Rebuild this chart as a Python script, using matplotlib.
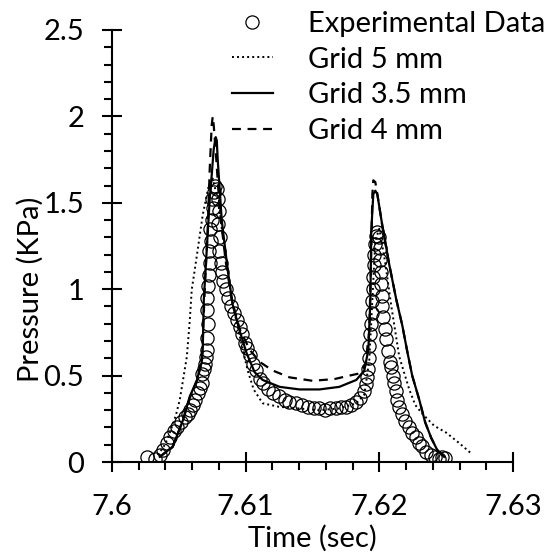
import matplotlib
matplotlib.use("Agg")
import matplotlib.pyplot as plt
from matplotlib.ticker import MultipleLocator

plt.rcParams['font.family'] = ['Lato', 'DejaVu Sans']

# datos experimentales (tiempo en s, presion en KPa)
exp_t = [7.60261, 7.60321, 7.60358, 7.60381, 7.60410, 7.60433, 7.60463, 7.60485,
         7.60515, 7.60545, 7.60567, 7.60582, 7.60604, 7.60619, 7.60642, 7.60657,
         7.60672, 7.60672, 7.60687, 7.60694, 7.60701, 7.60709, 7.60709, 7.60716,
         7.60709, 7.60709, 7.60716, 7.60724, 7.60731, 7.60724, 7.60739, 7.60731,
         7.60746, 7.60754, 7.60746, 7.60761, 7.60769, 7.60784, 7.60791, 7.60799,
         7.60791, 7.60806, 7.60799, 7.60813, 7.60821, 7.60828, 7.60851, 7.60866,
         7.60888, 7.60910, 7.60933, 7.60955, 7.60970, 7.60993, 7.61007, 7.61030,
         7.61052, 7.61075, 7.61104, 7.61127, 7.61164, 7.61201, 7.61246, 7.61291,
         7.61328, 7.61373, 7.61425, 7.61470, 7.61515, 7.61552, 7.61597, 7.61634,
         7.61679, 7.61716, 7.61754, 7.61791, 7.61828, 7.61858, 7.61888, 7.61903,
         7.61910, 7.61918, 7.61925, 7.61925, 7.61933, 7.61940, 7.61948, 7.61948,
         7.61955, 7.61955, 7.61963, 7.61963, 7.61970, 7.61978, 7.61985, 7.62000,
         7.62007, 7.62007, 7.62015, 7.62015, 7.62022, 7.62022, 7.62030, 7.62045,
         7.62052, 7.62067, 7.62082, 7.62090, 7.62104, 7.62112, 7.62127, 7.62134,
         7.62149, 7.62172, 7.62194, 7.62224, 7.62246, 7.62276, 7.62299, 7.62321,
         7.62351, 7.62388, 7.62418, 7.62448, 7.62470, 7.62493]
exp_p = [0.03, 0.02, 0.04, 0.07, 0.11, 0.145, 0.18, 0.20,
         0.23, 0.26, 0.28, 0.30, 0.33, 0.36, 0.40, 0.43,
         0.46, 0.51, 0.54, 0.57, 0.61, 0.65, 0.72, 0.80,
         0.88, 0.95, 1.02, 1.08, 1.15, 1.22, 1.28, 1.35,
         1.40, 1.47, 1.52, 1.56, 1.60, 1.58, 1.52, 1.45,
         1.38, 1.30, 1.22, 1.15, 1.10, 1.05, 1.00, 0.95,
         0.90, 0.86, 0.82, 0.78, 0.74, 0.69, 0.66, 0.62,
         0.57, 0.53, 0.48, 0.46, 0.42, 0.40, 0.38, 0.36,
         0.35, 0.34, 0.33, 0.32, 0.31, 0.31, 0.30, 0.31,
         0.31, 0.32, 0.32, 0.33, 0.35, 0.37, 0.41, 0.45,
         0.49, 0.54, 0.60, 0.67, 0.74, 0.80, 0.86, 0.93,
         1.00, 1.07, 1.14, 1.20, 1.26, 1.31, 1.33, 1.30,
         1.24, 1.17, 1.10, 1.03, 0.96, 0.90, 0.84, 0.77,
         0.71, 0.64, 0.58, 0.55, 0.50, 0.46, 0.41, 0.36,
         0.32, 0.28, 0.24, 0.20, 0.17, 0.145, 0.11, 0.09,
         0.06, 0.04, 0.03, 0.02, 0.03, 0.025]

# malla 5 mm
g5_t = [7.60343, 7.60396, 7.60433, 7.60478, 7.60507, 7.60537, 7.60560, 7.60582,
        7.60597, 7.60619, 7.60634, 7.60679, 7.60724, 7.60754, 7.60791, 7.60843,
        7.60896, 7.60955, 7.61015, 7.61060, 7.61127, 7.61246, 7.61400, 7.61550,
        7.61700, 7.61828, 7.61888, 7.61925, 7.61948, 7.61970, 7.62000, 7.62045,
        7.62090, 7.62149, 7.62224, 7.62269, 7.62321, 7.62410, 7.62500, 7.62597,
        7.62687]
g5_p = [0.04, 0.10, 0.17, 0.27, 0.36, 0.50, 0.61, 0.82,
        1.00, 1.11, 1.19, 1.43, 1.60, 1.64, 1.52, 1.23,
        0.94, 0.73, 0.53, 0.42, 0.34, 0.32, 0.31, 0.30,
        0.31, 0.34, 0.39, 0.59, 0.94, 1.28, 1.35, 1.15,
        0.90, 0.61, 0.42, 0.33, 0.28, 0.21, 0.17, 0.11,
        0.05]

# malla 3.5 mm
g35_t = [7.60358, 7.60455, 7.60530, 7.60582, 7.60634, 7.60672, 7.60679, 7.60687,
         7.60709, 7.60731, 7.60746, 7.60761, 7.60776, 7.60784, 7.60791, 7.60821,
         7.60866, 7.60903, 7.60955, 7.61007, 7.61067, 7.61127, 7.61254, 7.61403,
         7.61552, 7.61701, 7.61828, 7.61888, 7.61918, 7.61933, 7.61940, 7.61955,
         7.61970, 7.61985, 7.62022, 7.62075, 7.62127, 7.62172, 7.62209, 7.62246,
         7.62299, 7.62343, 7.62388, 7.62433, 7.62485]
g35_p = [0.03, 0.09, 0.24, 0.38, 0.47, 0.58, 0.65, 0.94,
         1.23, 1.52, 1.66, 1.81, 1.88, 1.86, 1.75, 1.40,
         1.11, 0.91, 0.76, 0.63, 0.52, 0.475, 0.435, 0.42,
         0.42, 0.435, 0.475, 0.53, 0.65, 0.94, 1.34, 1.55,
         1.57, 1.55, 1.37, 1.14, 0.94, 0.79, 0.64, 0.50,
         0.36, 0.23, 0.14, 0.07, 0.03]

# malla 4 mm
g4_t = [7.60358, 7.60455, 7.60530, 7.60582, 7.60634, 7.60672, 7.60679, 7.60694,
        7.60716, 7.60731, 7.60746, 7.60754, 7.60761, 7.60776, 7.60806, 7.60851,
        7.60896, 7.60955, 7.61030, 7.61104, 7.61201, 7.61328, 7.61500, 7.61664,
        7.61776, 7.61836, 7.61896, 7.61925, 7.61940, 7.61948, 7.61955, 7.61970,
        7.61985, 7.62022, 7.62075, 7.62127, 7.62172, 7.62209, 7.62246, 7.62299,
        7.62343, 7.62388, 7.62433, 7.62485]
g4_p = [0.03, 0.09, 0.24, 0.37, 0.47, 0.58, 0.70, 1.00,
        1.34, 1.69, 1.95, 2.00, 1.95, 1.80, 1.46, 1.16,
        0.94, 0.77, 0.65, 0.58, 0.53, 0.49, 0.47, 0.48,
        0.50, 0.51, 0.56, 0.76, 1.23, 1.55, 1.63, 1.62,
        1.55, 1.37, 1.14, 0.94, 0.79, 0.64, 0.50, 0.36,
        0.23, 0.14, 0.07, 0.03]

xticks = [7.6, 7.61, 7.62, 7.63]
xtick_labels = ['7.6', '7.61', '7.62', '7.63']
yticks = [0, 0.5, 1, 1.5, 2, 2.5]
ytick_labels = ['0', '0.5', '1', '1.5', '2', '2.5']

fig = plt.figure(figsize=(5.5, 5.52), dpi=100)
ax = fig.add_axes([0.2036, 0.163, 0.7291, 0.7827])

ax.plot(exp_t, exp_p, 'o', ms=9.5, mfc='none', mec='black', mew=0.9,
        label='Experimental Data', zorder=2)
ax.plot(g5_t, g5_p, color='black', ls=(0, (1, 1.6)), lw=1.4, label='Grid 5 mm', zorder=3)
ax.plot(g35_t, g35_p, color='black', ls='-', lw=1.6, label='Grid 3.5 mm', zorder=3)
ax.plot(g4_t, g4_p, color='black', ls=(0, (4, 3)), lw=1.6, label='Grid 4 mm', zorder=3)

ax.set_xlim(7.6, 7.63)
ax.set_ylim(0, 2.5)
ax.set_xticks(xticks)
ax.set_xticklabels(xtick_labels)
ax.set_yticks(yticks)
ax.set_yticklabels(ytick_labels)
ax.xaxis.set_minor_locator(MultipleLocator(0.002))
ax.yaxis.set_minor_locator(MultipleLocator(0.1))

for lado in ['top', 'right']:
    ax.spines[lado].set_visible(False)
for lado in ['left', 'bottom']:
    ax.spines[lado].set_linewidth(1.5)

ax.tick_params(which='major', direction='inout', length=14, width=1.5,
               labelsize=21, pad=13)
ax.tick_params(axis='x', which='major', pad=16)
ax.tick_params(which='minor', direction='out', length=6, width=1.5)

ax.set_xlabel('Time (sec)', fontsize=21)
ax.set_ylabel('Pressure (KPa)', fontsize=21)
ax.xaxis.set_label_coords(0.5, -0.145)
ax.yaxis.set_label_coords(-0.17, 0.40)

fig.legend(loc='upper left', bbox_to_anchor=(232 / 550, 1 - 11 / 552), frameon=False,
           fontsize=21, handlelength=1.4, handletextpad=1.2, labelspacing=0.33,
           borderpad=0, borderaxespad=0)

fig.savefig('out.png', dpi=100)
